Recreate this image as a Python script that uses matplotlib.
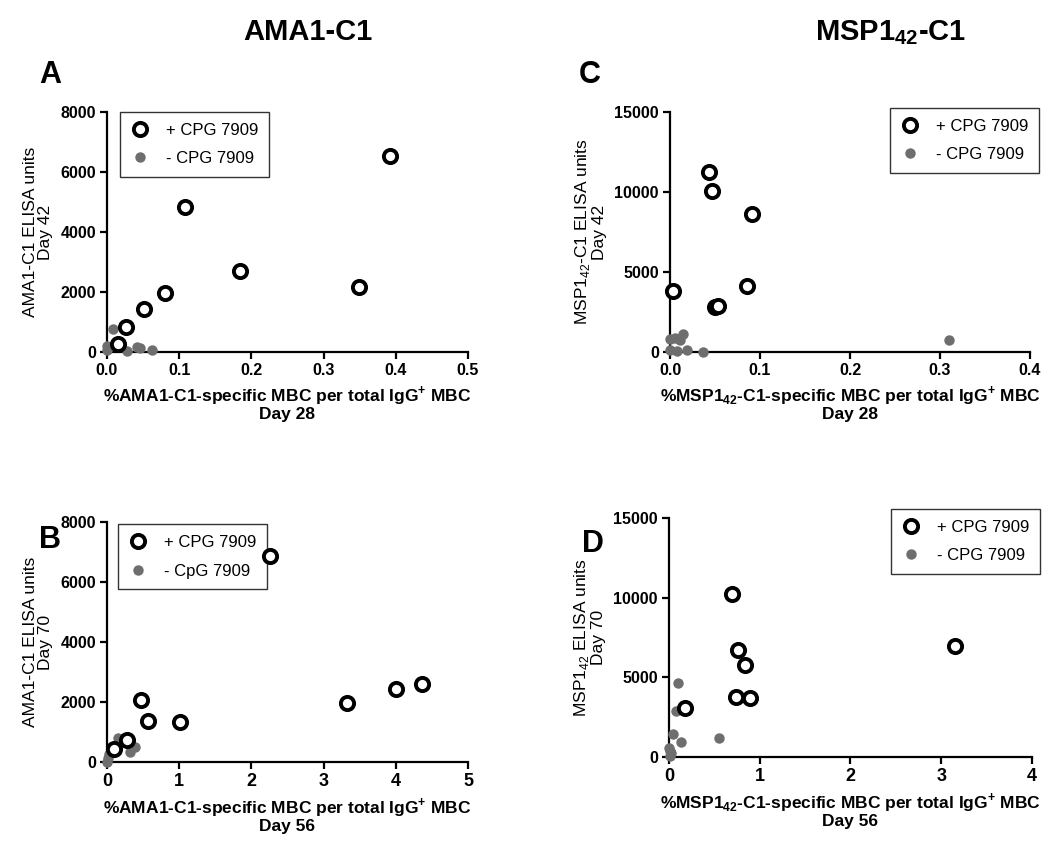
import matplotlib
matplotlib.use('Agg')
import matplotlib.pyplot as plt
from matplotlib import font_manager

names = set(f.name for f in font_manager.fontManager.ttflist)
narrow = 'Liberation Sans Narrow' if 'Liberation Sans Narrow' in names else 'Liberation Sans'

plt.rcParams['font.family'] = ['Liberation Sans', 'DejaVu Sans']
plt.rcParams['mathtext.fontset'] = 'custom'
plt.rcParams['mathtext.rm'] = 'Liberation Sans'
plt.rcParams['mathtext.bf'] = 'Liberation Sans:bold'

# panel A: AMA1-C1, day 28 MBC vs day 42 ELISA
a_pos_x = [0.3915, 0.1076, 0.1837, 0.3495, 0.0799, 0.0508, 0.0259, 0.0152]
a_pos_y = [6526, 4842, 2704, 2161, 1950, 1418, 831, 266]
a_neg_x = [0.0, 0.0, 0.009, 0.028, 0.041, 0.046, 0.062]
a_neg_y = [190, 60, 750, 20, 170, 120, 70]

# panel C: MSP1-42-C1, day 28 MBC vs day 42 ELISA
c_pos_x = [0.0437, 0.047, 0.0911, 0.0852, 0.0037, 0.05, 0.0537]
c_pos_y = [11219, 10076, 8622, 4134, 3823, 2805, 2846]
c_neg_x = [0.0, 0.0056, 0.011, 0.0148, 0.0, 0.0074, 0.0185, 0.037, 0.31]
c_neg_y = [810, 850, 770, 1120, 100, 40, 100, 0, 770]

# panel B: AMA1-C1, day 56 MBC vs day 70 ELISA
b_pos_x = [2.258, 4.363, 4.003, 3.324, 0.466, 0.568, 1.016, 0.272, 0.092]
b_pos_y = [6867, 2589, 2433, 1956, 2078, 1356, 1322, 744, 444]
b_neg_x = [0.152, 0.17, 0.314, 0.383, 0.028, 0.0, 0.01]
b_neg_y = [810, 780, 330, 500, 280, 0, 150]

# panel D: MSP1-42-C1, day 56 MBC vs day 70 ELISA
d_pos_x = [0.691, 0.761, 0.842, 0.735, 0.893, 0.18, 3.154]
d_pos_y = [10251, 6695, 5753, 3745, 3682, 3054, 6946]
d_neg_x = [0.096, 0.074, 0.044, 0.129, 0.551, 0.0, 0.007, 0.015, 0.025]
d_neg_y = [4665, 2908, 1444, 941, 1172, 565, 356, 42, 250]

fig = plt.figure(figsize=(10.5, 8.52), dpi=100)

def panel(rect, px, py, nx, ny, xmax, xticks, xfmt, ymax, yticks, ylab, xlab,
          neg_label, leg_loc, leg_anchor, narrow_x=False):
    ax = fig.add_axes(rect)
    ax.plot(nx, ny, 'o', color='#6e6e6e', markersize=7.5, markeredgewidth=0,
            clip_on=False, zorder=3, label=neg_label)
    ax.plot(px, py, 'o', markerfacecolor='white', markeredgecolor='black',
            markersize=9.5, markeredgewidth=2.8, clip_on=False, zorder=4,
            label='+ CPG 7909')
    ax.set_xlim(0, xmax)
    ax.set_ylim(0, ymax)
    ax.set_xticks(xticks)
    ax.set_xticklabels([xfmt % t for t in xticks])
    ax.set_yticks(yticks)
    ax.set_yticklabels([str(t) for t in yticks])
    for s in ['top', 'right']:
        ax.spines[s].set_visible(False)
    for s in ['left', 'bottom']:
        ax.spines[s].set_linewidth(1.6)
    ax.tick_params(direction='out', length=5, width=1.6, labelsize=11.5, pad=3)
    for t in ax.get_yticklabels():
        t.set_fontweight('bold')
    for t in ax.get_xticklabels():
        t.set_fontweight('bold')
        if narrow_x:
            t.set_family(narrow)
            t.set_fontsize(13)
    ax.set_ylabel(ylab, fontsize=12.5, labelpad=5, linespacing=1.05)
    ax.set_xlabel(xlab, fontsize=12.5, fontweight='bold', labelpad=4,
                  linespacing=1.05)
    h, l = ax.get_legend_handles_labels()
    leg = ax.legend(h[::-1], l[::-1], loc=leg_loc, bbox_to_anchor=leg_anchor,
                    fontsize=12, frameon=True, fancybox=False, edgecolor='black',
                    borderpad=0.65, handletextpad=1.0, labelspacing=0.8,
                    handlelength=1.1, borderaxespad=0)
    leg.get_frame().set_linewidth(1.0)
    leg.set_zorder(2)
    return ax

igg = 'MBC per total IgG$^{\\mathbf{+}}$ MBC'
panel([0.1019, 0.5869, 0.3438, 0.2817], a_pos_x, a_pos_y, a_neg_x, a_neg_y,
      0.5, [0, 0.1, 0.2, 0.3, 0.4, 0.5], '%.1f', 8000, [0, 2000, 4000, 6000, 8000],
      'AMA1-C1 ELISA units\nDay 42',
      '%AMA1-C1-specific ' + igg + '\nDay 28',
      '- CPG 7909', 'upper left', (0.036, 1.0))
panel([0.6381, 0.5869, 0.3429, 0.2817], c_pos_x, c_pos_y, c_neg_x, c_neg_y,
      0.4, [0, 0.1, 0.2, 0.3, 0.4], '%.1f', 15000, [0, 5000, 10000, 15000],
      'MSP1$_{42}$-C1 ELISA units\nDay 42',
      '%MSP1$_{\\mathbf{42}}$-C1-specific ' + igg + '\nDay 28',
      '- CPG 7909', 'upper right', (1.025, 1.017))
panel([0.1019, 0.1056, 0.3438, 0.2817], b_pos_x, b_pos_y, b_neg_x, b_neg_y,
      5, [0, 1, 2, 3, 4, 5], '%d', 8000, [0, 2000, 4000, 6000, 8000],
      'AMA1-C1 ELISA units\nDay 70',
      '%AMA1-C1-specific ' + igg + '\nDay 56',
      '- CpG 7909', 'upper left', (0.03, 0.99), narrow_x=True)
panel([0.6371, 0.1115, 0.3457, 0.2805], d_pos_x, d_pos_y, d_neg_x, d_neg_y,
      4, [0, 1, 2, 3, 4], '%d', 15000, [0, 5000, 10000, 15000],
      'MSP1$_{42}$ ELISA units\nDay 70',
      '%MSP1$_{\\mathbf{42}}$-C1-specific ' + igg + '\nDay 56',
      '- CPG 7909', 'upper right', (1.022, 1.038), narrow_x=True)

fig.text(0.293, 0.962, 'AMA1-C1', fontsize=21, fontweight='bold', family=narrow,
         ha='center', va='center')
fig.text(0.848, 0.962, 'MSP1$_{\\mathbf{42}}$-C1', fontsize=21, fontweight='bold',
         family=narrow, ha='center', va='center')
for letter, x, y in [('A', 0.048, 0.912), ('C', 0.562, 0.912),
                     ('B', 0.048, 0.366), ('D', 0.565, 0.362)]:
    fig.text(x, y, letter, fontsize=22, fontweight='bold', family=narrow,
             ha='center', va='center')

fig.savefig('out.png', dpi=100)
